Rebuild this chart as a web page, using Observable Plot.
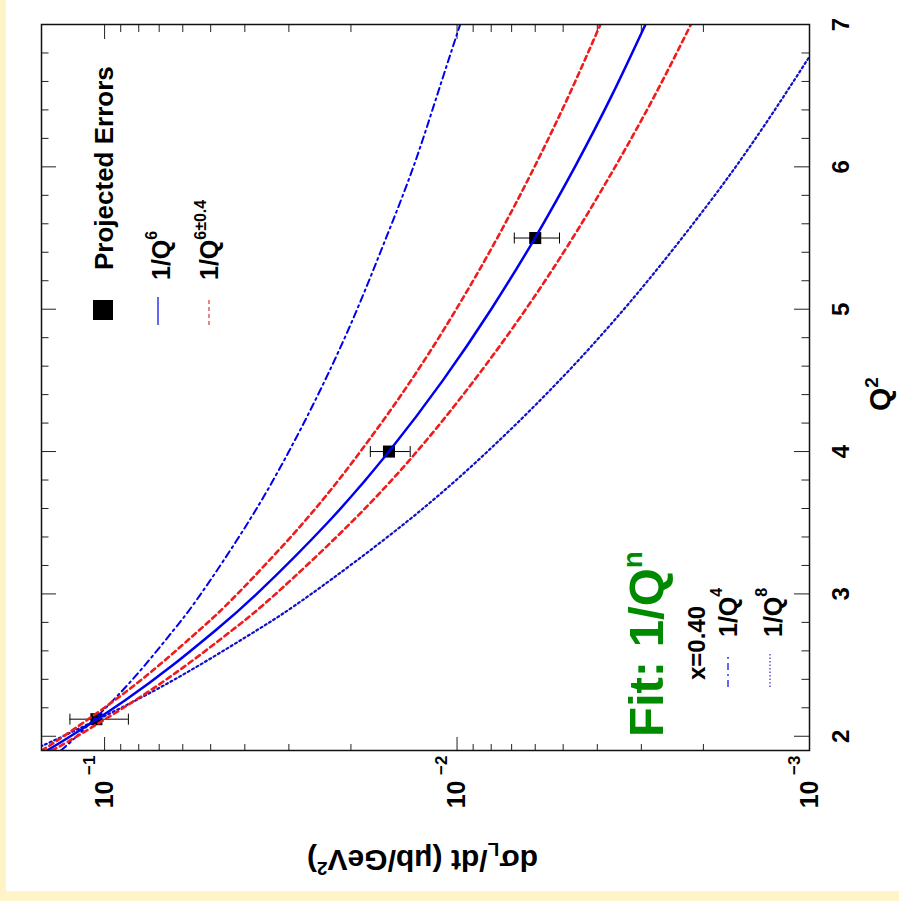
<!DOCTYPE html>
<html><head><meta charset="utf-8">
<script src="https://cdn.jsdelivr.net/npm/d3@7"></script>
<script src="https://cdn.jsdelivr.net/npm/@observablehq/plot@0.6"></script>
<style>
html,body{margin:0;padding:0;background:#fff4c7;width:899px;height:901px;overflow:hidden;}
#wrap{position:absolute;left:0;top:0;width:891px;height:893px;transform-origin:0 0;transform:translate(6px,891px) rotate(-90deg);}
</style></head><body><div id="wrap"></div>
<script>
// ---- data ----
const q2 = [1.9, 2.0, 2.25, 2.5, 2.75, 3.0, 3.5, 4.0, 4.5, 5.0, 5.5, 6.0, 6.5, 7.0];
const fitQ6  = [0.1458, 0.1250, 0.0878, 0.0640, 0.0481, 0.0370, 0.0233, 0.0156, 0.01097, 0.0080, 0.00601, 0.00463, 0.00364, 0.00292];
const fitQ56 = [0.1508, 0.1307, 0.0940, 0.0700, 0.0536, 0.0420, 0.0273, 0.0188, 0.0135, 0.01005, 0.00769, 0.00603, 0.00482, 0.00392];
const fitQ64 = [0.1410, 0.1197, 0.0822, 0.0586, 0.0432, 0.0327, 0.0200, 0.0130, 0.00894, 0.00638, 0.00470, 0.00356, 0.00275, 0.00217];
const fitQ4  = [0.1330, 0.1200, 0.0948, 0.0768, 0.0635, 0.0533, 0.0392, 0.0300, 0.0237, 0.0192, 0.0159, 0.0133, 0.0114, 0.0098];
const fitQ8  = [0.1612, 0.1313, 0.0819, 0.0538, 0.0367, 0.0259, 0.0140, 0.0082, 0.00512, 0.00336, 0.00230, 0.00162, 0.00118, 0.000875];

const ptQ2  = [2.12, 4.0, 5.5];
const ptVal = [0.1055, 0.01560, 0.00600];
const ptErr = [0.0199, 0.00202, 0.00088];

const xMajor = [2, 3, 4, 5, 6, 7];
const yMajor = [0.1, 0.01, 0.001];

// ---- layout ----
const W = 891, H = 893, mL = 140, mR = 25, mT = 35, mB = 90;
const fw = W - mL - mR, fh = H - mT - mB;
const font = "'Liberation Sans', Arial, Helvetica, sans-serif";

const xMinor = d3.range(2, 7.001, 0.2).filter(v => Math.abs(v - Math.round(v)) > 0.01);
const yMinor = [];
[0.001, 0.01].forEach(b => { for (let k = 2; k <= 9; k++) yMinor.push(k * b); });

const toRows = vals => q2.map((q, i) => ({q, v: vals[i]}));
const pts = ptQ2.map((q, i) => ({q, v: ptVal[i], e: ptErr[i]}));

const capSymbol = {draw(ctx, size) { const w = Math.sqrt(size / Math.PI); ctx.moveTo(-w, 0); ctx.lineTo(w, 0); }};

const blue = "#0000f0", red = "#ee1c1c";

const chart = Plot.plot({
  width: W, height: H,
  marginLeft: mL, marginRight: mR, marginTop: mT, marginBottom: mB,
  style: {background: "white", fontFamily: font, maxWidth: "none", overflow: "visible", color: "black"},
  x: {domain: [1.9, 7], axis: null, label: null},
  y: {type: "log", domain: [0.001, 0.151], axis: null, label: null},
  marks: [
    // ticks (inside the frame on all four sides)
    Plot.tickX(xMajor, {x: d => d, insetTop: fh - 15, stroke: "#222"}),
    Plot.tickX(xMajor, {x: d => d, insetBottom: fh - 15, stroke: "#222"}),
    Plot.tickX(xMinor, {x: d => d, insetTop: fh - 7.5, stroke: "#222"}),
    Plot.tickX(xMinor, {x: d => d, insetBottom: fh - 7.5, stroke: "#222"}),
    Plot.tickY(yMajor, {y: d => d, insetRight: fw - 14, stroke: "#222"}),
    Plot.tickY(yMajor, {y: d => d, insetLeft: fw - 14, stroke: "#222"}),
    Plot.tickY(yMinor, {y: d => d, insetRight: fw - 7, stroke: "#222"}),
    Plot.tickY(yMinor, {y: d => d, insetLeft: fw - 7, stroke: "#222"}),
    // axis labels
    Plot.axisX(xMajor, {tickSize: 0, tickPadding: 22, fontSize: 24, fontWeight: "bold", tickFormat: d => String(d), fill: "black", label: null}),
    Plot.text(yMajor, {y: d => d, frameAnchor: "left", text: () => "10", textAnchor: "end", dx: -30, fontSize: 25, fontWeight: "bold", fill: "black"}),
    Plot.text(yMajor, {y: d => d, frameAnchor: "left", text: d => "\u2212" + Math.round(-Math.log10(d)), textAnchor: "end", dx: -5, dy: -15, fontSize: 17, fontWeight: "bold", fill: "black"}),
    // data points with error bars
    Plot.ruleX(pts, {x: "q", y1: d => d.v - d.e, y2: d => d.v + d.e, stroke: "black", strokeWidth: 1}),
    Plot.dot(pts, {x: "q", y: d => d.v - d.e, symbol: capSymbol, r: 5.5, stroke: "black", strokeWidth: 1}),
    Plot.dot(pts, {x: "q", y: d => d.v + d.e, symbol: capSymbol, r: 5.5, stroke: "black", strokeWidth: 1}),
    Plot.dot(pts, {x: "q", y: "v", symbol: "square", r: 6.8, fill: "black", stroke: "none"}),
    // curves
    Plot.line(toRows(fitQ4),  {x: "q", y: "v", curve: "natural", clip: true, stroke: blue, strokeWidth: 2, strokeDasharray: "7,4,2,4"}),
    Plot.line(toRows(fitQ8),  {x: "q", y: "v", curve: "natural", clip: true, stroke: "#1010c8", strokeWidth: 2.2, strokeDasharray: "2,3"}),
    Plot.line(toRows(fitQ56), {x: "q", y: "v", curve: "natural", clip: true, stroke: red, strokeWidth: 2.6, strokeDasharray: "5,4"}),
    Plot.line(toRows(fitQ64), {x: "q", y: "v", curve: "natural", clip: true, stroke: red, strokeWidth: 2.6, strokeDasharray: "5,4"}),
    Plot.line(toRows(fitQ6),  {x: "q", y: "v", curve: "natural", clip: true, stroke: blue, strokeWidth: 2.5}),
    Plot.frame({stroke: "#111", strokeWidth: 1.5})
  ]
});
document.getElementById("wrap").appendChild(chart);

// ---- titles and legends (rich text with sub/superscripts) ----
const svg = d3.select(chart);
function rich(x, y, parts, {size, anchor = "start", color = "black", rotate = 0}) {
  const t = svg.append("text")
    .attr("transform", `translate(${x},${y})` + (rotate ? ` rotate(${rotate})` : ""))
    .attr("text-anchor", anchor).attr("font-size", size).attr("font-weight", "bold")
    .attr("font-family", font).attr("fill", color);
  let cur = 0;
  parts.forEach(p => {
    const ts = t.append("tspan").text(p.t);
    const shift = p.shift || 0;
    if (shift !== cur) { ts.attr("dy", shift - cur); cur = shift; }
    if (p.size) ts.attr("font-size", p.size);
    if (p.dx) ts.attr("dx", p.dx);
  });
  return t;
}
function sample(x1, x2, y, stroke, dash, w = 1) {
  svg.append("line").attr("x1", x1).attr("x2", x2).attr("y1", y).attr("y2", y)
    .attr("stroke", stroke).attr("stroke-width", w).attr("stroke-dasharray", dash || null);
}

// axis titles
rich(41.5, 416.5, [{t: "d\u03c3"}, {t: "L", size: 19, shift: 7}, {t: "/dt (\u03bcb/GeV", shift: 0}, {t: "2", size: 19, shift: -12}, {t: ")", shift: 0}], {size: 30, anchor: "middle", rotate: -90});
rich(497, 884, [{t: "Q"}, {t: "2", size: 19, shift: -12}], {size: 30, anchor: "middle"});

// legend 1
svg.append("rect").attr("x", 571).attr("y", 87).attr("width", 20).attr("height", 20).attr("fill", "black");
rich(621, 107, [{t: "Projected Errors"}], {size: 26});
sample(566, 594, 152, blue, null, 1.2);
rich(611, 164, [{t: "1/Q"}, {t: "6", size: 16, shift: -13}], {size: 25});
sample(566, 594, 203, "#e23030", "4,3", 1.2);
rich(611, 212, [{t: "1/Q"}, {t: "6\u00b10.4", size: 16, shift: -12}], {size: 25});

// legend 2
rich(154, 657, [{t: "Fit: 1/Q"}, {t: "n", size: 28, shift: -21}], {size: 49, color: "#008a00"});
rich(211, 699, [{t: "x=0.40"}], {size: 24});
sample(204, 236, 722, blue, "7,4,2,4", 1.2);
rich(254, 731, [{t: "1/Q"}, {t: "4", size: 16, shift: -15}], {size: 25});
sample(204, 238, 764, "#3030c0", "1.5,2", 1.2);
rich(254, 776, [{t: "1/Q"}, {t: "8", size: 16, shift: -15}], {size: 25});
</script></body></html>
